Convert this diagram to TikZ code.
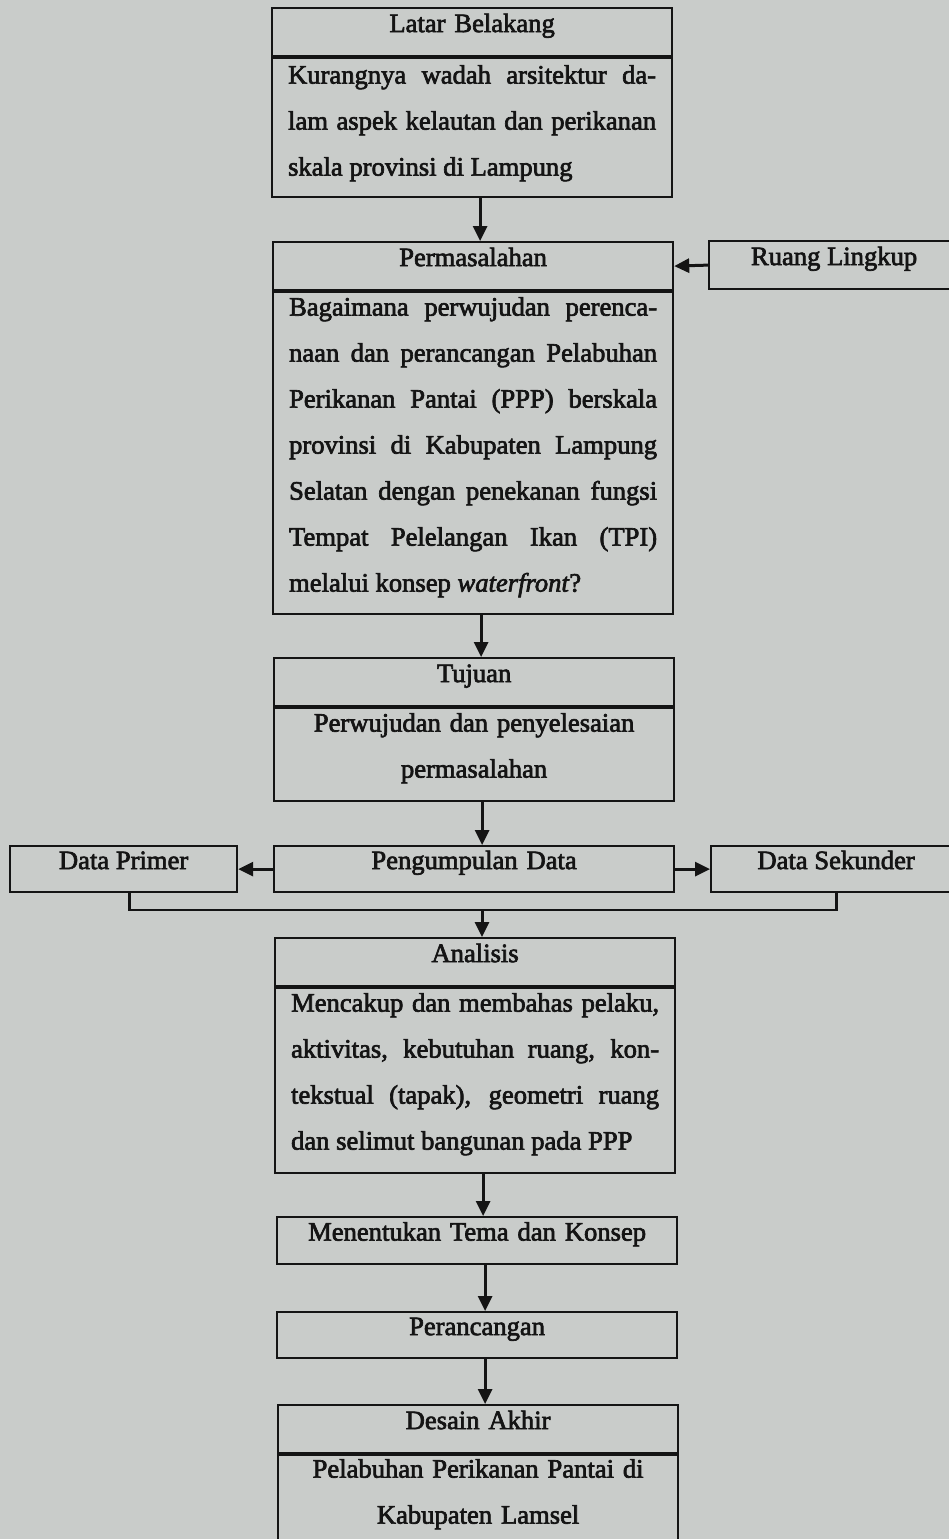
\documentclass[tikz,border=0pt]{standalone}
\usepackage{fontspec}
\setmainfont{Liberation Serif}[FakeBold=2.5]
\usepackage{xcolor}
\usetikzlibrary{arrows.meta}
\definecolor{paper}{RGB}{201,204,202}
\definecolor{ink}{RGB}{20,20,20}

\begin{document}
\begin{tikzpicture}[x=0.5pt, y=-0.5pt,
  box/.style={draw=ink, text=ink, line width=1.1pt, anchor=north west, inner xsep=8pt, inner ysep=0pt,
    text width=184pt, font=\fontsize{13.3}{23}\selectfont},
  head/.style={box, align=center, minimum height=24pt, text height=9.5pt, text depth=9.5pt},
  body/.style={box, align=justify},
  isi/.style={box, align=center},
  side/.style={draw=ink, text=ink, line width=1.1pt, anchor=north west, minimum height=24pt, inner ysep=0pt,
    text height=9.5pt, text depth=9.5pt, font=\fontsize{13.3}{23}\selectfont},
  arr/.style={draw=ink, line width=1.5pt, -{Triangle[length=7.5pt,width=7pt]}}]
 \useasboundingbox (0,0) rectangle (949,1539);
 \clip (0,0) rectangle (949,1539);
 \fill[paper] (0,0) rectangle (949,1539);

 \node[head] (latar) at (271,7) {Latar Belakang};
 \node[body, minimum height=69.5pt, text depth=53.4pt] (latarisi) at (latar.south west)
   {Kurangnya wadah arsitektur da-\linebreak lam aspek kelautan dan perikanan\linebreak skala provinsi di Lampung};

 \node[head] (perm) at (272,241) {Permasalahan};
 \node[body, minimum height=161pt, text depth=146.9pt] (permisi) at (perm.south west)
   {Bagaimana perwujudan perenca-\linebreak naan dan perancangan Pelabuhan\linebreak
    Perikanan Pantai (PPP) berskala\linebreak provinsi di Kabupaten Lampung\linebreak
    Selatan dengan penekanan fungsi\linebreak Tempat Pelelangan Ikan (TPI)\linebreak
    melalui konsep \emph{waterfront}?};
 \node[side, minimum width=125pt] (ruang) at (708,240) {Ruang Lingkup};

 \node[head] (tujuan) at (273,657) {Tujuan};
 \node[isi, minimum height=46.5pt, text depth=32.4pt] (tujuanisi) at (tujuan.south west)
   {Perwujudan dan penyelesaian\\permasalahan};

 \node[head, minimum height=23pt] (kumpul) at (273,845) {Pengumpulan Data};
 \node[side, minimum width=113.5pt, minimum height=23pt] (primer) at (9,845) {Data Primer};
 \node[side, minimum width=125pt, minimum height=23pt] (sekunder) at (710,845) {Data Sekunder};

 \node[head] (analisis) at (274,937) {Analisis};
 \node[body, minimum height=92.5pt, text depth=78.4pt] (analisisisi) at (analisis.south west)
   {Mencakup dan membahas pelaku,\linebreak aktivitas, kebutuhan ruang, kon-\linebreak
    tekstual (tapak), geometri ruang\linebreak dan selimut bangunan pada PPP};

 \node[head, minimum height=23.5pt] (tema) at (276,1216) {Menentukan Tema dan Konsep};
 \node[head, minimum height=23pt] (rancang) at (276,1311) {Perancangan};

 \node[head] (desain) at (277,1404) {Desain Akhir};
 \node[isi, minimum height=47pt, text depth=33.9pt] (desainisi) at (desain.south west)
   {Pelabuhan Perikanan Pantai di\\Kabupaten Lamsel};

 \foreach \a/\b in {latarisi/perm, permisi/tujuan, tujuanisi/kumpul, analisisisi/tema, tema/rancang, rancang/desain}
   \draw[arr] ([xshift=4pt]\a.south) -- ([xshift=4pt]\a.south |- \b.north);

 \draw[arr] (ruang.west) -- (perm.east);
 \draw[arr] (kumpul.west) -- (primer.east);
 \draw[arr] (kumpul.east) -- (sekunder.west);

 \coordinate (gabung) at (482,910);
 \draw[draw=ink, line width=1.4pt] ([xshift=3pt]primer.south) |- (gabung) -| (sekunder.south);
 \draw[arr] (gabung) -- (gabung |- analisis.north);
\end{tikzpicture}
\end{document}
